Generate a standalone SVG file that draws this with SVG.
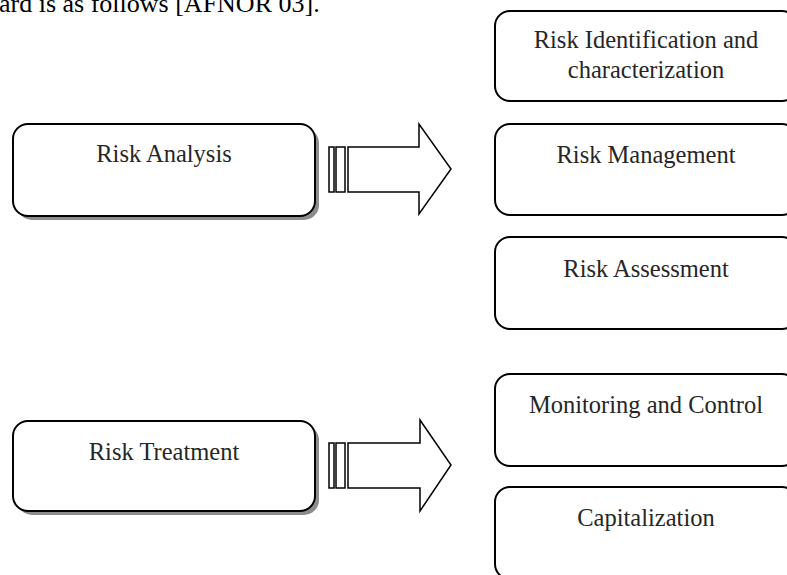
<svg xmlns="http://www.w3.org/2000/svg" width="787" height="575" viewBox="0 0 787 575">
<style>
.box{fill:#fff;stroke:#000;stroke-width:2}
.shadow{fill:#8c8c8c;stroke:none}
.lbl{font-family:"Liberation Serif","Times New Roman",serif;font-size:24.5px;fill:#262626;text-anchor:middle}
.body{font-family:"Liberation Serif","Times New Roman",serif;font-size:26px;fill:#000}
.arr{fill:#fff;stroke:#000;stroke-width:1.5;stroke-linejoin:miter}
</style>
<rect width="787" height="575" fill="#fff"/>
<text class="body" x="-1" y="12">ard is as follows [AFNOR 03].</text>

<g id="connectors">
  <g id="arrow1">
    <rect class="arr" x="329" y="147" width="5" height="45"/>
    <rect class="arr" x="336" y="147" width="9" height="45"/>
    <path class="arr" d="M348,147 L419,147 L419,124 L451,169 L419,214 L419,192 L348,192 Z"/>
  </g>
  <g id="arrow2">
    <rect class="arr" x="329" y="443" width="5" height="45"/>
    <rect class="arr" x="336" y="443" width="9" height="45"/>
    <path class="arr" d="M348,443 L420,443 L420,420 L451,465 L420,511 L420,488 L348,488 Z"/>
  </g>
</g>

<g id="risk-analysis">
  <rect class="shadow" x="17" y="128" width="302" height="92" rx="15"/>
  <rect class="box" x="13" y="124" width="302" height="92" rx="15"/>
  <text class="lbl" x="164" y="162">Risk Analysis</text>
</g>
<g id="risk-treatment">
  <rect class="shadow" x="17" y="425" width="302" height="90" rx="15"/>
  <rect class="box" x="13" y="421" width="302" height="90" rx="15"/>
  <text class="lbl" x="164" y="460">Risk Treatment</text>
</g>

<g id="risk-identification">
  <rect class="box" x="495" y="11" width="302" height="90" rx="15"/>
  <text class="lbl" x="646" y="48">Risk Identification and</text>
  <text class="lbl" x="646" y="78">characterization</text>
</g>
<g id="risk-management">
  <rect class="box" x="495" y="124" width="302" height="91" rx="15"/>
  <text class="lbl" x="646" y="163">Risk Management</text>
</g>
<g id="risk-assessment">
  <rect class="box" x="495" y="237" width="302" height="92" rx="15"/>
  <text class="lbl" x="646" y="277">Risk Assessment</text>
</g>
<g id="monitoring-control">
  <rect class="box" x="495" y="374" width="302" height="92" rx="15"/>
  <text class="lbl" x="646" y="413">Monitoring and Control</text>
</g>
<g id="capitalization">
  <rect class="box" x="495" y="487" width="302" height="92" rx="15"/>
  <text class="lbl" x="646" y="526">Capitalization</text>
</g>
</svg>
